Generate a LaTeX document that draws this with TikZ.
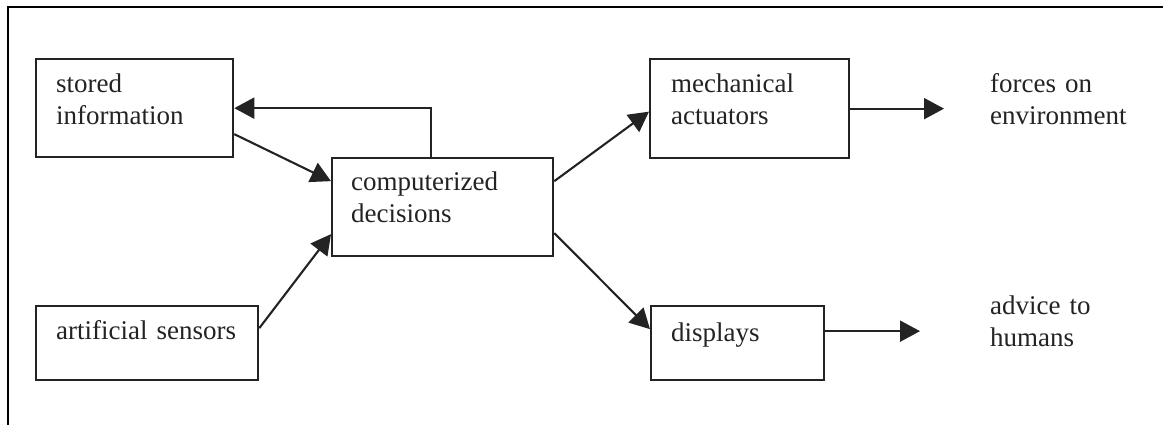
\documentclass[tikz,border=0pt]{standalone}
\usepackage{fontspec}
\setmainfont{Liberation Serif}
\usetikzlibrary{arrows.meta,calc}
\definecolor{ink}{RGB}{35,35,35}
\tikzset{
  box/.style={draw=ink, line width=2.3pt, rectangle, inner sep=0pt, anchor=north west},
  txt/.style={anchor=base west, inner sep=0pt, text=ink, text width=220pt, align=left,
              font=\fontsize{27}{32}\selectfont},
  arr/.style={draw=ink, line width=2.1pt, -{Triangle[length=20pt,width=21pt]}},
  frame/.style={draw=black, line width=2.8pt}
}
\begin{document}
\begin{tikzpicture}[x=1pt,y=-1pt]
\useasboundingbox (0,0) rectangle (1163,425);
\draw[frame] (8,425) -- (8,7) -- (1163,7);
% boxes
\node[box, minimum width=197pt, minimum height=98pt] (stored) at (35,58) {};
\node[box, minimum width=222pt, minimum height=74pt] (sensors) at (35,305) {};
\node[box, minimum width=221pt, minimum height=98pt] (comp) at (331,157) {};
\node[box, minimum width=199pt, minimum height=99pt] (mech) at (649,58) {};
\node[box, minimum width=173pt, minimum height=74pt] (disp) at (650,305) {};
% texts
\node[txt] (storedT) at (56,93) {stored\\information};
\node[txt] (sensorsT) at (56,339) {artificial sensors};
\node[txt] (compT) at (351,191) {computerized\\decisions};
\node[txt] (mechT) at (671,93) {mechanical\\actuators};
\node[txt] (dispT) at (671,341) {displays};
\node[txt, text width=160pt] (forces) at (990,93) {forces on\\environment};
\node[txt, text width=160pt] (advice) at (990,314) {advice to\\humans};
% connectors
\draw[arr] ($(stored.east)+(0,26)$) -- ($(comp.west)+(0,-26)$);
\draw[arr] ($(sensors.east)+(0,-15)$) -- ($(comp.west)+(0,27)$);
\draw[arr] ($(comp.north)+(-12,0)$) |- (stored.east);
\draw[arr] ($(comp.east)+(0,-26)$) -- ($(mech.west)+(0,3)$);
\draw[arr] ($(comp.east)+(0,26)$) -- ($(disp.west)+(0,-14)$);
\draw[arr, shorten >=46pt] (mech.east) -- (mech.east -| forces.west);
\coordinate (dispOut) at ($(disp.east)+(0,-12)$);
\draw[arr, shorten >=70pt] (dispOut) -- (dispOut -| advice.west);
\end{tikzpicture}
\end{document}
